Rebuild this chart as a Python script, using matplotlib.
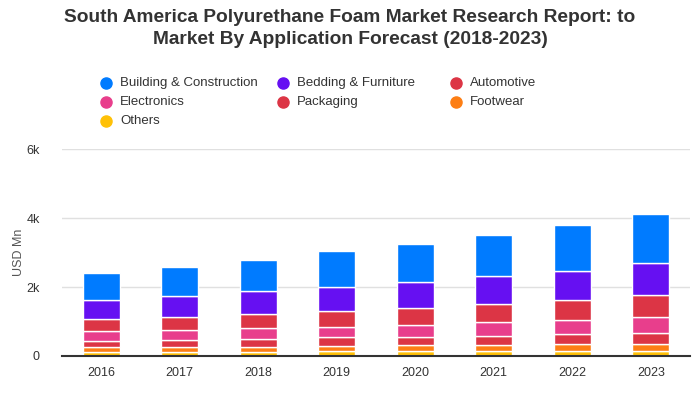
import matplotlib
matplotlib.use("Agg")
import matplotlib.pyplot as plt
import numpy as np

years = ["2016", "2017", "2018", "2019", "2020", "2021", "2022", "2023"]

# stacked from bottom to top
others = [105, 105, 105, 133, 133, 133, 152, 152]
footwear = [143, 143, 162, 143, 172, 200, 210, 210]
packaging = [200, 228, 238, 267, 257, 257, 286, 314]
electronics = [285, 286, 314, 295, 343, 400, 400, 457]
automotive = [343, 371, 400, 467, 485, 515, 571, 629]
bedding = [543, 600, 657, 685, 743, 800, 857, 924]
building = [800, 860, 920, 1040, 1125, 1210, 1330, 1440]

series = [
    ("Others", others, "#ffc107"),
    ("Footwear", footwear, "#fd7e14"),
    ("Packaging", packaging, "#dc3545"),
    ("Electronics", electronics, "#e83e8c"),
    ("Automotive", automotive, "#dc3545"),
    ("Bedding & Furniture", bedding, "#6610f2"),
    ("Building & Construction", building, "#007bff"),
]

# legend order as shown (row by row)
legend_rows = [
    ["Building & Construction", "Bedding & Furniture", "Automotive"],
    ["Electronics", "Packaging", "Footwear"],
    ["Others"],
]

plt.rcParams["font.family"] = ["Liberation Sans", "DejaVu Sans"]

fig = plt.figure(figsize=(7, 4), dpi=100)
ax = fig.add_axes([62 / 700, 44 / 400, 628 / 700, 207 / 400])

x = np.arange(len(years))
bottom = np.zeros(len(years))
for name, vals, col in series:
    ax.bar(x, vals, width=0.47, bottom=bottom, color=col, edgecolor="white",
           linewidth=1, zorder=3)
    bottom += np.array(vals)

ax.set_xlim(-0.5, len(years) - 0.5)
ax.set_ylim(0, 6000)
ax.set_yticks([0, 2000, 4000, 6000])
ax.set_yticklabels(["0", "2k", "4k", "6k"])
ax.set_xticks(x)
ax.set_xticklabels(years)
ax.tick_params(axis="both", length=0, labelsize=9, colors="#333333")
ax.tick_params(axis="x", pad=8)
ax.tick_params(axis="y", pad=16)
ax.grid(axis="y", color="#e0e0e0", linewidth=1, zorder=0)
for s in ["top", "right", "left"]:
    ax.spines[s].set_visible(False)
ax.spines["bottom"].set_color("#333333")
ax.spines["bottom"].set_linewidth(1.5)
ax.spines["bottom"].set_zorder(4)
ax.set_ylabel("USD Mn", fontsize=9, color="#555555")
ax.yaxis.set_label_coords(-37 / 628, 0.5)

fig.text(0.5, 1 - 18 / 400, "South America Polyurethane Foam Market Research Report: to",
         ha="center", va="center", fontsize=13.8, fontweight="bold", color="#333333")
fig.text(0.5, 1 - 40 / 400, "Market By Application Forecast (2018-2023)",
         ha="center", va="center", fontsize=13.8, fontweight="bold", color="#333333")

colors = {name: col for name, vals, col in series}
col_x = [106, 283, 456]
row_y = [83, 102, 121]
for r, row in enumerate(legend_rows):
    for c, name in enumerate(row):
        fx = col_x[c] / 700
        fy = 1 - row_y[r] / 400
        fig.add_artist(plt.Line2D([fx], [fy], marker="o", markersize=8,
                                  color=colors[name], linestyle="none",
                                  transform=fig.transFigure))
        fig.text(fx + 14 / 700, fy, name, ha="left", va="center",
                 fontsize=9.5, color="#333333")

fig.savefig("out.png", dpi=100)
